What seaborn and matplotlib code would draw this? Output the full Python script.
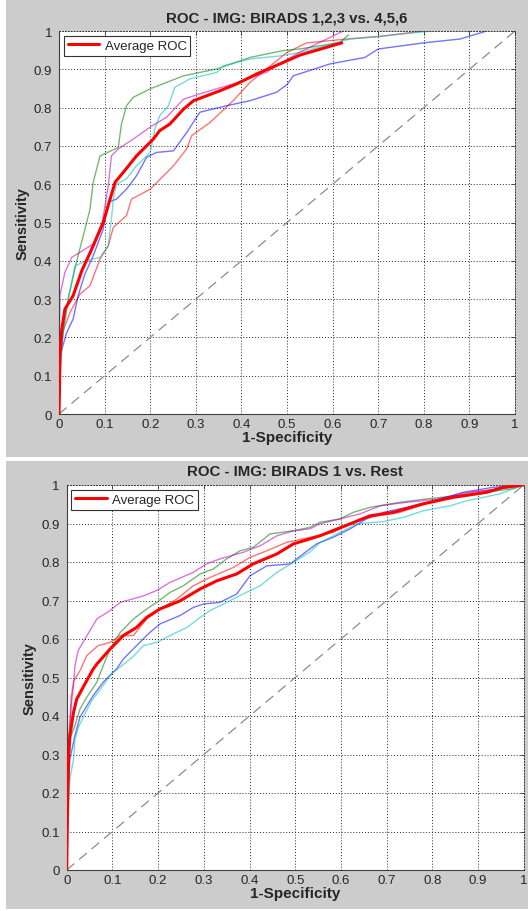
import matplotlib
matplotlib.use('Agg')
import matplotlib.pyplot as plt
from matplotlib.patches import Rectangle
from matplotlib.lines import Line2D
import seaborn as sns

# ---- data: top panel (BIRADS 1,2,3 vs. 4,5,6) ----
top_red_x = [0, 0.002, 0.01, 0.024, 0.046, 0.068, 0.09, 0.108, 0.119, 0.148, 0.159, 0.2, 0.251, 0.28,
             0.291, 0.331, 0.382, 0.419, 0.455, 0.5, 0.543, 0.631, 0.704, 0.799]
top_red_y = [0, 0.152, 0.22, 0.265, 0.313, 0.335, 0.405, 0.439, 0.487, 0.518, 0.561, 0.587, 0.648, 0.692,
             0.727, 0.761, 0.818, 0.866, 0.901, 0.944, 0.969, 0.979, 0.986, 1.0]
top_green_x = [0, 0.003, 0.007, 0.02, 0.039, 0.057, 0.068, 0.075, 0.09, 0.13, 0.137, 0.148, 0.163, 0.2,
               0.273, 0.346, 0.419, 0.492, 0.528, 0.616, 0.635]
top_green_y = [0, 0.12, 0.2, 0.3, 0.4, 0.483, 0.535, 0.605, 0.674, 0.696, 0.757, 0.805, 0.827, 0.849,
               0.883, 0.901, 0.931, 0.949, 0.953, 0.97, 0.99]
top_blue_x = [0, 0.002, 0.017, 0.031, 0.042, 0.057, 0.075, 0.097, 0.108, 0.126, 0.148, 0.17, 0.192, 0.214,
              0.251, 0.28, 0.309, 0.368, 0.419, 0.477, 0.5, 0.514, 0.594, 0.671, 0.7, 0.799, 0.879, 0.938]
top_blue_y = [0, 0.152, 0.213, 0.248, 0.309, 0.366, 0.413, 0.483, 0.553, 0.561, 0.587, 0.622, 0.67, 0.683,
              0.687, 0.735, 0.788, 0.805, 0.818, 0.84, 0.86, 0.883, 0.914, 0.931, 0.953, 0.969, 0.979, 1.0]
top_cyan_x = [0, 0.002, 0.008, 0.02, 0.035, 0.06, 0.09, 0.108, 0.115, 0.119, 0.126, 0.148, 0.17, 0.2, 0.21,
              0.221, 0.24, 0.254, 0.287, 0.346, 0.36, 0.419, 0.485, 0.528, 0.616, 0.638, 0.704, 0.817]
top_cyan_y = [0, 0.1, 0.2, 0.3, 0.387, 0.4, 0.409, 0.439, 0.509, 0.561, 0.6, 0.614, 0.648, 0.683, 0.744,
              0.779, 0.805, 0.853, 0.875, 0.892, 0.909, 0.927, 0.935, 0.944, 0.972, 0.979, 0.986, 1.0]
top_magenta_x = [0, 0.001, 0.002, 0.013, 0.028, 0.046, 0.075, 0.095, 0.108, 0.115, 0.13, 0.163, 0.2, 0.236,
                 0.273, 0.309, 0.382, 0.455, 0.485, 0.528, 0.62]
top_magenta_y = [0, 0.2, 0.309, 0.37, 0.409, 0.422, 0.444, 0.5, 0.596, 0.674, 0.692, 0.718, 0.749, 0.775,
                 0.822, 0.836, 0.862, 0.892, 0.915, 0.945, 0.998]
top_avg_x = [0, 0.001, 0.002, 0.006, 0.013, 0.031, 0.05, 0.072, 0.097, 0.112, 0.123, 0.141, 0.17, 0.207,
             0.221, 0.243, 0.273, 0.295, 0.324, 0.353, 0.39, 0.434, 0.492, 0.528, 0.62]
top_avg_y = [0, 0.06, 0.152, 0.22, 0.274, 0.309, 0.374, 0.431, 0.5, 0.561, 0.605, 0.631, 0.674, 0.718,
             0.74, 0.757, 0.796, 0.818, 0.831, 0.844, 0.862, 0.888, 0.918, 0.937, 0.969]

# ---- data: bottom panel (BIRADS 1 vs. Rest) ----
bot_red_x = [0, 0.002, 0.005, 0.01, 0.015, 0.03, 0.044, 0.069, 0.095, 0.117, 0.146, 0.175, 0.204, 0.241,
             0.277, 0.314, 0.365, 0.401, 0.438, 0.481, 0.532, 0.583, 0.642, 0.729, 0.817, 0.89, 0.948, 1.0]
bot_red_y = [0, 0.2, 0.35, 0.45, 0.49, 0.52, 0.557, 0.583, 0.591, 0.609, 0.609, 0.652, 0.678, 0.704,
             0.738, 0.76, 0.786, 0.812, 0.829, 0.851, 0.864, 0.877, 0.912, 0.929, 0.964, 0.981, 0.99, 1.0]
bot_green_x = [0, 0.002, 0.004, 0.007, 0.018, 0.029, 0.044, 0.066, 0.08, 0.095, 0.117, 0.146, 0.175, 0.197,
               0.226, 0.255, 0.292, 0.321, 0.35, 0.379, 0.408, 0.445, 0.496, 0.532, 0.554, 0.598, 0.627,
               0.664, 0.729, 0.788, 0.861, 0.919, 0.977, 1.0]
bot_green_y = [0, 0.15, 0.25, 0.34, 0.375, 0.418, 0.449, 0.488, 0.531, 0.574, 0.617, 0.652, 0.678, 0.695,
               0.721, 0.738, 0.769, 0.782, 0.808, 0.829, 0.838, 0.873, 0.881, 0.89, 0.903, 0.912, 0.929,
               0.942, 0.955, 0.964, 0.973, 0.981, 0.991, 1.0]
bot_blue_x = [0, 0.001, 0.004, 0.007, 0.018, 0.029, 0.058, 0.08, 0.109, 0.124, 0.153, 0.182, 0.204, 0.248,
              0.277, 0.299, 0.335, 0.372, 0.401, 0.438, 0.489, 0.532, 0.547, 0.583, 0.62, 0.656, 0.693,
              0.744, 0.802, 0.868, 0.933, 1.0]
bot_blue_y = [0, 0.1, 0.228, 0.288, 0.349, 0.397, 0.453, 0.488, 0.522, 0.548, 0.583, 0.617, 0.639, 0.661,
              0.682, 0.691, 0.695, 0.717, 0.764, 0.79, 0.795, 0.834, 0.847, 0.864, 0.886, 0.912, 0.929,
              0.942, 0.959, 0.981, 0.994, 1.0]
bot_cyan_x = [0, 0.002, 0.004, 0.007, 0.015, 0.018, 0.026, 0.036, 0.055, 0.077, 0.098, 0.12, 0.146, 0.168,
              0.197, 0.233, 0.263, 0.292, 0.314, 0.35, 0.386, 0.423, 0.46, 0.496, 0.532, 0.554, 0.598,
              0.635, 0.693, 0.737, 0.78, 0.839, 0.875, 0.948, 1.0]
bot_cyan_y = [0, 0.08, 0.16, 0.236, 0.288, 0.34, 0.371, 0.397, 0.44, 0.475, 0.51, 0.53, 0.555, 0.583,
              0.591, 0.613, 0.63, 0.656, 0.674, 0.695, 0.717, 0.738, 0.773, 0.799, 0.826, 0.85, 0.877,
              0.899, 0.905, 0.916, 0.933, 0.946, 0.959, 0.977, 1.0]
bot_magenta_x = [0, 0.003, 0.006, 0.01, 0.015, 0.018, 0.025, 0.04, 0.066, 0.095, 0.117, 0.168, 0.197, 0.226,
                 0.277, 0.306, 0.335, 0.386, 0.423, 0.46, 0.496, 0.532, 0.554, 0.598, 0.642, 0.686, 0.729,
                 0.817, 0.875, 0.948, 1.0]
bot_magenta_y = [0, 0.2, 0.35, 0.43, 0.48, 0.53, 0.57, 0.6, 0.652, 0.674, 0.695, 0.712, 0.726, 0.747,
                 0.773, 0.795, 0.808, 0.825, 0.842, 0.868, 0.881, 0.886, 0.899, 0.912, 0.925, 0.946, 0.953,
                 0.964, 0.981, 0.99, 1.0]
bot_avg_x = [0, 0.001, 0.002, 0.004, 0.007, 0.015, 0.022, 0.036, 0.058, 0.066, 0.095, 0.124, 0.153, 0.175,
             0.204, 0.248, 0.292, 0.328, 0.372, 0.408, 0.46, 0.496, 0.532, 0.554, 0.62, 0.664, 0.715, 0.78,
             0.846, 0.919, 0.955, 1.0]
bot_avg_y = [0, 0.1, 0.18, 0.288, 0.349, 0.41, 0.444, 0.475, 0.522, 0.535, 0.574, 0.609, 0.63, 0.656,
             0.678, 0.699, 0.73, 0.751, 0.769, 0.795, 0.821, 0.847, 0.86, 0.868, 0.899, 0.92, 0.929, 0.951,
             0.968, 0.981, 0.994, 1.0]

ticks = [0, 0.1, 0.2, 0.3, 0.4, 0.5, 0.6, 0.7, 0.8, 0.9, 1]
tick_labels = ['0', '0.1', '0.2', '0.3', '0.4', '0.5', '0.6', '0.7', '0.8', '0.9', '1']

GRAY = '#cccccc'
sns.set_style('white')
plt.rcParams['font.family'] = ['Liberation Sans', 'DejaVu Sans']

fig = plt.figure(figsize=(5.28, 9.12), dpi=100, facecolor='white')
# two gray figure panels with a white gap, like two stacked MATLAB windows
fig.patches.append(Rectangle((6 / 528, 454 / 912), 522 / 528, 458 / 912, transform=fig.transFigure,
                             facecolor=GRAY, edgecolor='none', zorder=-5))
fig.patches.append(Rectangle((6 / 528, 2 / 912), 522 / 528, 448 / 912, transform=fig.transFigure,
                             facecolor=GRAY, edgecolor='none', zorder=-5))

ax_top = fig.add_axes([59 / 528, 497 / 912, 456 / 528, 383 / 912])
ax_bot = fig.add_axes([66.7 / 528, 41 / 912, 457 / 528, 385 / 912])


def draw_panel(ax, title, curves, avg_x, avg_y):
    ax.set_facecolor('white')
    ax.plot([0, 1], [0, 1], linestyle=(0, (8, 5)), color='0.55', lw=0.9, zorder=1)
    for cx, cy, col in curves:
        sns.lineplot(x=cx, y=cy, ax=ax, color=col, alpha=0.55, lw=1.0, sort=False, estimator=None, zorder=2)
    sns.lineplot(x=avg_x, y=avg_y, ax=ax, color='red', lw=2.2, sort=False, estimator=None, zorder=3)
    ax.set_xlim(0, 1)
    ax.set_ylim(0, 1)
    ax.set_xticks(ticks)
    ax.set_yticks(ticks)
    ax.set_xticklabels(tick_labels, fontsize=9.5)
    ax.set_yticklabels(tick_labels, fontsize=9.5)
    ax.grid(True, linestyle=(0, (1, 2)), color='0.15', lw=0.7)
    ax.tick_params(direction='in', length=3, width=0.6, color='0.2', top=True, right=True)
    ax.tick_params(axis='y', pad=5)
    ax.tick_params(axis='x', pad=3)
    for side in ['left', 'bottom']:
        ax.spines[side].set_color('0.25')
        ax.spines[side].set_linewidth(0.8)
    for side in ['top', 'right']:
        ax.spines[side].set_color('0.2')
        ax.spines[side].set_linestyle((0, (1, 2)))
        ax.spines[side].set_linewidth(0.7)
    ax.set_title(title, fontsize=10.8, fontweight='bold', pad=7)
    ax.set_xlabel('1-Specificity', fontsize=11, fontweight='bold', labelpad=0)
    ax.set_ylabel('Sensitivity', fontsize=10.5, fontweight='bold', labelpad=3)
    handle = Line2D([], [], color='red', lw=2.2)
    leg = ax.legend([handle], ['Average ROC'], loc='upper left', fontsize=9.5, fancybox=False,
                    framealpha=1, edgecolor='0.2', borderaxespad=0.35, handlelength=2.4,
                    borderpad=0.3, handletextpad=0.4)
    leg.get_frame().set_linewidth(0.8)


draw_panel(ax_top, 'ROC - IMG: BIRADS 1,2,3 vs. 4,5,6',
           [(top_red_x, top_red_y, 'red'), (top_green_x, top_green_y, 'green'),
            (top_blue_x, top_blue_y, 'blue'), (top_cyan_x, top_cyan_y, 'c'),
            (top_magenta_x, top_magenta_y, 'm')],
           top_avg_x, top_avg_y)
draw_panel(ax_bot, 'ROC - IMG: BIRADS 1 vs. Rest',
           [(bot_red_x, bot_red_y, 'red'), (bot_green_x, bot_green_y, 'green'),
            (bot_blue_x, bot_blue_y, 'blue'), (bot_cyan_x, bot_cyan_y, 'c'),
            (bot_magenta_x, bot_magenta_y, 'm')],
           bot_avg_x, bot_avg_y)

fig.savefig('out.png', dpi=100, facecolor=fig.get_facecolor())
